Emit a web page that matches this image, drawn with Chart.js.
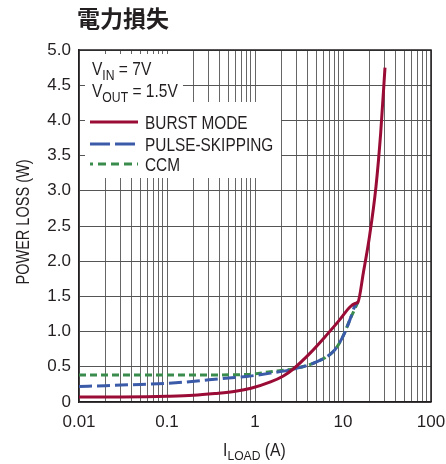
<!DOCTYPE html>
<html>
<head>
<meta charset="utf-8">
<script src="https://cdn.jsdelivr.net/npm/chart.js@4/dist/chart.umd.min.js"></script>
<style>
  html, body { margin: 0; padding: 0; background: #fff; }
  #wrap { width: 446px; height: 464px; }
</style>
</head>
<body>
<div id="wrap"><canvas id="c" width="446" height="464"></canvas></div>
<script>
// ---- text ----
const chartTitle = '電力損失';
const yAxisTitle = 'POWER LOSS (W)';
const xAxisMain = 'I', xAxisSub = 'LOAD', xAxisTail = ' (A)';
const seriesNames = ['BURST MODE', 'PULSE-SKIPPING', 'CCM'];

// ---- axes ----
const xDecades = [0.01, 0.1, 1, 10, 100];
const xDecadeLabels = ['0.01', '0.1', '1', '10', '100'];
const yTicks = [0, 0.5, 1, 1.5, 2, 2.5, 3, 3.5, 4, 4.5, 5];
const yTickLabels = ['0', '0.5', '1.0', '1.5', '2.0', '2.5', '3.0', '3.5', '4.0', '4.5', '5.0'];

// ---- series: load current (A) and power loss (W) ----
const burstLoad = [0.01, 0.03, 0.1, 0.2, 0.35, 0.6, 0.9, 1.5, 2.1, 2.7, 4.2, 6.5, 9.2, 12, 13.7, 14.8, 17, 20, 23.7, 26.8, 30];
const burstLoss = [0.07, 0.072, 0.082, 0.095, 0.12, 0.152, 0.195, 0.285, 0.37, 0.465, 0.69, 0.95, 1.17, 1.35, 1.40, 1.42, 1.83, 2.35, 3.06, 3.82, 4.75];

const pulseLoad = [0.01, 0.02, 0.05, 0.08, 0.15, 0.3, 0.5, 0.8, 1.5, 2.7, 5, 7.8, 9.7, 10.6, 12, 13.6, 14.8];
const pulseLoss = [0.22, 0.232, 0.25, 0.26, 0.28, 0.315, 0.34, 0.362, 0.41, 0.465, 0.57, 0.72, 0.9, 1.0, 1.17, 1.36, 1.42];

const ccmLoad = [0.01, 0.1, 0.3, 0.8, 1.5, 2.7, 5, 7.8, 9.7, 12, 14.8];
const ccmLoss = [0.385, 0.385, 0.385, 0.39, 0.43, 0.47, 0.57, 0.72, 0.9, 1.17, 1.42];

// ---- style ----
const RED = '#9a0b35', BLUE = '#3b5ba9', GREEN = '#3a8c4c';
const SANS = '"Liberation Sans", Arial, sans-serif';
const INK = '#231f20';

const toPoints = (xs, ys) => xs.map((x, i) => ({ x, y: ys[i] }));

function sans(size) { return size + 'px ' + SANS; }

// Horizontally condensed text; returns the drawn width
function narrowText(ctx, text, x, y, size, squeeze) {
  ctx.save();
  ctx.font = sans(size);
  ctx.translate(x, y);
  ctx.scale(squeeze, 1);
  ctx.fillText(text, 0, 0);
  const w = ctx.measureText(text).width * squeeze;
  ctx.restore();
  return w;
}

// Text with a subscript part, drawn left to right from x at the given baseline
function drawSubscripted(ctx, x, y, main, sub, tail, size, subSize, subDrop, squeeze) {
  x += narrowText(ctx, main, x, y, size, squeeze);
  x += narrowText(ctx, sub, x, y + subDrop, subSize, squeeze);
  narrowText(ctx, tail, x, y, size, squeeze);
}

const decor = {
  id: 'decor',
  beforeDatasetsDraw(chart) {
    const { ctx, chartArea: a } = chart;
    ctx.save();
    // plot frame (top and right edges)
    ctx.strokeStyle = INK;
    ctx.lineWidth = 1.5;
    ctx.beginPath();
    ctx.moveTo(a.left, a.top);
    ctx.lineTo(a.right, a.top);
    ctx.lineTo(a.right, a.bottom);
    ctx.stroke();
    // white panels behind the condition text and the key
    ctx.fillStyle = '#fff';
    ctx.fillRect(a.left + 6, a.top + 4, 98, 49);
    ctx.fillRect(a.left + 6, a.top + 52, 196, 76);

    ctx.fillStyle = INK;
    ctx.textBaseline = 'alphabetic';
    ctx.textAlign = 'left';
    drawSubscripted(ctx, 92, 75, 'V', 'IN', ' = 7V', 18.5, 14.5, 5, 0.84);
    drawSubscripted(ctx, 92, 96.5, 'V', 'OUT', ' = 1.5V', 18.5, 14.5, 5, 0.84);

    // key
    const ds = chart.data.datasets;
    const rows = [122, 144, 164];
    const dashes = [[], [20, 5], [8, 5]];
    const offsets = [0, 0, 5];
    ds.forEach((d, i) => {
      ctx.strokeStyle = d.borderColor;
      ctx.lineWidth = 3;
      ctx.setLineDash(dashes[i]);
      ctx.lineDashOffset = offsets[i];
      ctx.beginPath();
      ctx.moveTo(90, rows[i]);
      ctx.lineTo(138, rows[i]);
      ctx.stroke();
      ctx.setLineDash([]);
      ctx.fillStyle = INK;
      narrowText(ctx, d.label, 145, rows[i] + 7, 19, 0.81);
    });
    ctx.restore();
  },
  afterDraw(chart) {
    const { ctx } = chart;
    ctx.save();
    ctx.fillStyle = INK;
    // chart title
    ctx.font = 'bold 23px "Noto Sans CJK JP", "Noto Sans CJK SC", sans-serif';
    ctx.textAlign = 'left';
    ctx.textBaseline = 'middle';
    ctx.fillText(chartTitle, 77, 18);
    // y-axis title
    ctx.save();
    ctx.translate(24, 222);
    ctx.rotate(-Math.PI / 2);
    ctx.textAlign = 'center';
    ctx.textBaseline = 'middle';
    narrowText(ctx, yAxisTitle, 0, 0, 17.5, 0.83);
    ctx.restore();
    // x-axis title with subscript
    ctx.textAlign = 'left';
    ctx.textBaseline = 'alphabetic';
    drawSubscripted(ctx, 223, 456, xAxisMain, xAxisSub, xAxisTail, 17.5, 13.5, 4, 0.9);
    ctx.restore();
  }
};

new Chart(document.getElementById('c'), {
  type: 'line',
  data: {
    datasets: [
      { label: seriesNames[0], data: toPoints(burstLoad, burstLoss), borderColor: RED, borderWidth: 3 },
      { label: seriesNames[1], data: toPoints(pulseLoad, pulseLoss), borderColor: BLUE, borderWidth: 3, borderDash: [13, 5] },
      { label: seriesNames[2], data: toPoints(ccmLoad, ccmLoss), borderColor: GREEN, borderWidth: 3, borderDash: [7, 4] }
    ]
  },
  options: {
    responsive: false,
    animation: false,
    devicePixelRatio: 1,
    layout: { padding: { top: 50, right: 15, left: 0, bottom: 0 } },
    elements: {
      point: { radius: 0 },
      line: { cubicInterpolationMode: 'monotone', fill: false, borderCapStyle: 'butt' }
    },
    plugins: { legend: { display: false }, tooltip: { enabled: false }, title: { display: false } },
    scales: {
      x: {
        type: 'logarithmic',
        min: xDecades[0],
        max: xDecades[xDecades.length - 1],
        afterFit(s) { s.height = 62; s.paddingLeft = 0; s.paddingRight = 0; },
        afterBuildTicks(s) {
          const t = [];
          xDecades.forEach((d, i) => {
            t.push({ value: d });
            if (i < xDecades.length - 1) for (let m = 2; m <= 9; m++) t.push({ value: +(d * m).toPrecision(3) });
          });
          s.ticks = t;
        },
        ticks: {
          autoSkip: false,
          maxRotation: 0,
          padding: 10,
          color: INK,
          font: { family: SANS, size: 17 },
          callback(v) {
            const i = xDecades.findIndex(d => Math.abs(d - v) < d * 1e-6);
            return i >= 0 ? xDecadeLabels[i] : '';
          }
        },
        grid: { color: '#666', lineWidth: 1, drawTicks: false },
        border: { display: true, color: INK, width: 1.5 }
      },
      y: {
        type: 'linear',
        min: 0,
        max: 5,
        afterFit(s) { s.width = 79; s.paddingTop = 0; s.paddingBottom = 0; },
        afterBuildTicks(s) { s.ticks = yTicks.map(v => ({ value: v })); },
        ticks: {
          padding: 8,
          color: INK,
          font: { family: SANS, size: 17 },
          callback(v) { const i = yTicks.indexOf(v); return i >= 0 ? yTickLabels[i] : ''; }
        },
        grid: { color: '#555', lineWidth: 1, drawTicks: false },
        border: { display: true, color: INK, width: 1.5 }
      }
    }
  },
  plugins: [decor]
});
</script>
</body>
</html>
